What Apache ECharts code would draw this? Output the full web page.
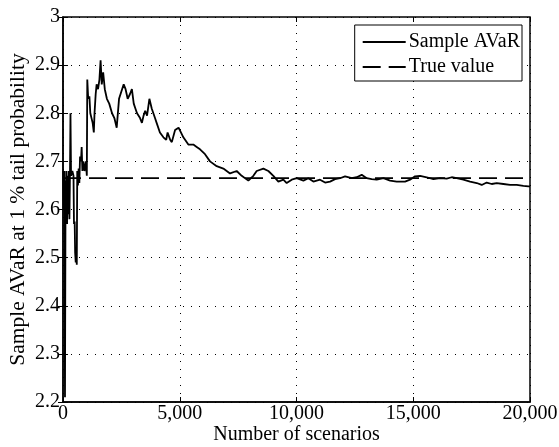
<!DOCTYPE html>
<html>
<head>
<meta charset="utf-8">
<script src="https://cdn.jsdelivr.net/npm/echarts@6/dist/echarts.min.js"></script>
<style>html,body{margin:0;padding:0;background:#fff}#c{width:559px;height:447px}</style>
</head>
<body>
<div id="c"></div>
<script>
var xTicks = [0, 5000, 10000, 15000, 20000];
var yTicks = [2.2, 2.3, 2.4, 2.5, 2.6, 2.7, 2.8, 2.9, 3];
var seriesNames = ['Sample AVaR', 'True value'];
var trueValue = 2.665;
var scenarios = [10, 40, 60, 85, 110, 130, 150, 175, 200, 225, 250, 275, 300, 320, 345, 400, 450, 470, 500, 520, 545, 565, 590, 610, 640, 670, 700, 730, 770, 800, 830, 870, 920, 980, 1020, 1040, 1080, 1130, 1170, 1230, 1270, 1320, 1350, 1400, 1440, 1500, 1560, 1610, 1660, 1720, 1790, 1880, 1980, 2100, 2200, 2300, 2360, 2400, 2500, 2600, 2680, 2770, 2870, 2950, 3030, 3100, 3170, 3240, 3300, 3380, 3450, 3520, 3600, 3700, 3800, 3870, 3940, 4010, 4150, 4300, 4420, 4480, 4590, 4660, 4800, 4950, 5011, 5154, 5368, 5582, 5725, 5868, 6082, 6296, 6582, 6867, 7153, 7438, 7653, 7938, 8153, 8295, 8581, 8795, 9009, 9223, 9438, 9580, 9795, 10009, 10295, 10509, 10723, 11008, 11223, 11437, 11651, 11865, 12079, 12365, 12579, 12793, 13007, 13221, 13435, 13721, 14007, 14292, 14649, 14863, 15077, 15291, 15577, 15862, 16148, 16433, 16647, 16861, 17147, 17433, 17718, 17932, 18146, 18360, 18575, 18860, 19146, 19431, 19717, 19931, 20000];
var sampleAvar = [2.68, 2.60, 2.68, 2.21, 2.66, 2.58, 2.68, 2.57, 2.67, 2.59, 2.68, 2.58, 2.68, 2.80, 2.67, 2.68, 2.67, 2.57, 2.575, 2.51, 2.49, 2.52, 2.485, 2.68, 2.65, 2.685, 2.655, 2.71, 2.70, 2.73, 2.68, 2.70, 2.68, 2.70, 2.67, 2.87, 2.83, 2.835, 2.80, 2.80, 2.78, 2.76, 2.80, 2.84, 2.86, 2.85, 2.87, 2.91, 2.86, 2.885, 2.85, 2.83, 2.82, 2.80, 2.79, 2.77, 2.77, 2.83, 2.845, 2.86, 2.85, 2.83, 2.84, 2.85, 2.82, 2.81, 2.80, 2.80, 2.79, 2.78, 2.795, 2.805, 2.795, 2.83, 2.81, 2.80, 2.79, 2.78, 2.76, 2.75, 2.745, 2.76, 2.745, 2.74, 2.765, 2.77, 2.77, 2.75, 2.735, 2.735, 2.73, 2.725, 2.715, 2.70, 2.69, 2.685, 2.675, 2.68, 2.67, 2.66, 2.67, 2.68, 2.685, 2.68, 2.67, 2.658, 2.662, 2.655, 2.662, 2.665, 2.660, 2.665, 2.658, 2.662, 2.656, 2.658, 2.663, 2.665, 2.669, 2.665, 2.667, 2.672, 2.665, 2.663, 2.662, 2.665, 2.660, 2.658, 2.658, 2.662, 2.669, 2.670, 2.667, 2.663, 2.665, 2.664, 2.667, 2.665, 2.662, 2.658, 2.655, 2.651, 2.656, 2.653, 2.655, 2.653, 2.651, 2.651, 2.649, 2.648, 2.648];

var FONT = 'Liberation Serif';
var sampleData = scenarios.map(function (x, i) { return [x, sampleAvar[i]]; });
var xMin = xTicks[0], xMax = xTicks[xTicks.length - 1];
var yMin = yTicks[0], yMax = yTicks[yTicks.length - 1];
var trueData = [[xMin, trueValue], [xMax, trueValue]];

function fmtX(v) { return String(v).replace(/\B(?=(\d{3})+(?!\d))/g, ','); }
function fmtY(v) { return Math.abs(v - Math.round(v)) < 1e-9 ? String(Math.round(v)) : v.toFixed(1); }

var chart = echarts.init(document.getElementById('c'), null, {renderer: 'canvas'});
var gridLine = {show: true, lineStyle: {color: '#000', width: 1, type: [1, 7]}};
chart.setOption({
  animation: false,
  backgroundColor: '#fff',
  grid: {left: 63, right: 29, top: 17, bottom: 45, show: true, borderColor: '#000', borderWidth: 1.5, backgroundColor: 'transparent', containLabel: false, outerBoundsMode: 'none'},
  legend: {
    right: 37, top: 25, orient: 'vertical',
    data: seriesNames,
    itemWidth: 43, itemHeight: 14, itemGap: 5,
    padding: [7, 2, 4, 7],
    borderColor: '#000', borderWidth: 1, backgroundColor: '#fff', borderRadius: 0,
    itemStyle: {color: 'rgba(0,0,0,0)', borderWidth: 0, opacity: 0},
    textStyle: {fontFamily: FONT, fontSize: 20, color: '#000', lineHeight: 20, padding: [0, 0, 0, -2]}
  },
  xAxis: [{
    type: 'value', min: xMin, max: xMax, interval: xTicks[1] - xTicks[0],
    name: 'Number of scenarios', nameLocation: 'middle', nameGap: 23, nameMoveOverlap: false,
    nameTextStyle: {fontFamily: FONT, fontSize: 20, color: '#000'},
    axisLine: {show: true, lineStyle: {color: '#000', width: 1.5}},
    axisTick: {show: true, inside: true, length: 5, lineStyle: {color: '#000'}},
    axisLabel: {fontFamily: FONT, fontSize: 20, color: '#000', margin: 2, formatter: fmtX},
    splitLine: gridLine
  }, {
    type: 'value', position: 'top', min: xMin, max: xMax, interval: xTicks[1] - xTicks[0],
    axisLine: {show: false}, axisTick: {show: true, inside: true, length: 5, lineStyle: {color: '#000'}},
    axisLabel: {show: false}, splitLine: {show: false}
  }],
  yAxis: [{
    type: 'value', min: yMin, max: yMax, interval: 0.1,
    name: 'Sample AVaR at 1 % tail probability', nameLocation: 'middle', nameGap: 34, nameMoveOverlap: false,
    nameTextStyle: {fontFamily: FONT, fontSize: 21.5, color: '#000'},
    axisLine: {show: true, lineStyle: {color: '#000', width: 1.5}},
    axisTick: {show: true, inside: true, length: 5, lineStyle: {color: '#000'}},
    axisLabel: {fontFamily: FONT, fontSize: 20, color: '#000', margin: 3, formatter: fmtY},
    splitLine: gridLine
  }, {
    type: 'value', position: 'right', min: yMin, max: yMax, interval: 0.1,
    axisLine: {show: false}, axisTick: {show: true, inside: true, length: 5, lineStyle: {color: '#000'}},
    axisLabel: {show: false}, splitLine: {show: false}
  }],
  series: [{
    name: seriesNames[0], type: 'line', symbol: 'none', data: sampleData, z: 3,
    lineStyle: {color: '#000', width: 1.8}, itemStyle: {color: '#000'}
  }, {
    name: seriesNames[1], type: 'line', symbol: 'none', data: trueData, z: 2,
    lineStyle: {color: '#000', width: 1.8, type: [18, 8]}, itemStyle: {color: '#000'}
  }]
});
</script>
</body>
</html>
